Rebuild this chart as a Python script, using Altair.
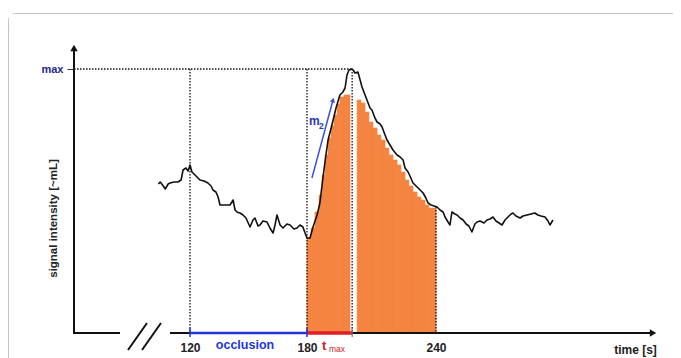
import altair as alt
import pandas as pd

# ---------------- data (time [s], signal intensity [a.u.]) ----------------
curve_t = [
    103.6, 104.6, 106.2, 107.2, 108.7, 109.7, 111.8, 113.8, 115.4, 116.4,
    117.9, 119.0, 120.0, 121.0, 123.1, 125.1, 127.2, 129.2, 130.8, 131.8,
    133.3, 134.4, 135.4, 137.9, 140.5, 142.1, 143.1, 144.1, 145.6, 147.2,
    148.7, 150.8, 152.3, 153.3, 154.9, 155.9, 157.4, 159.5, 161.0, 162.6,
    163.6, 164.6, 166.2, 167.7, 169.7, 171.3, 173.3, 174.9, 176.4, 177.9,
    179.0, 180.0, 181.4, 182.8, 184.7, 186.0, 187.4, 188.8, 189.8, 191.6,
    193.5, 195.3, 196.7, 197.7, 198.6, 199.5, 201.0, 201.8, 202.3, 203.7,
    204.7, 205.6, 207.0, 207.9, 209.3, 210.2, 211.6, 212.6, 214.0, 214.9,
    216.3, 217.2, 218.6, 220.0, 221.9, 223.3, 224.7, 225.6, 227.0, 227.9,
    229.3, 231.2, 232.6, 234.0, 235.3, 236.3, 237.7, 239.1, 240.5, 241.9,
    243.3, 244.2, 245.6, 246.5, 247.4, 248.8, 249.8, 251.2, 252.6, 254.0,
    255.3, 256.7, 258.1, 259.1, 260.5, 262.3, 263.7, 265.1, 266.5, 267.9,
    269.3, 270.7, 272.1, 273.5, 274.9, 275.8, 277.2, 279.1, 280.5, 282.3,
    284.2, 286.0, 287.4, 288.8, 290.7, 292.1, 293.0, 294.4,
]
curve_s = [
    149, 151, 147, 144, 149, 150, 151, 151, 153, 163,
    165, 162, 168, 161, 157, 153, 152, 150, 147, 143,
    141, 136, 128, 128, 128, 133, 123, 121, 120, 118,
    115, 106, 113, 115, 107, 108, 112, 111, 105, 100,
    108, 118, 108, 105, 109, 108, 104, 105, 108, 106,
    100, 95, 95, 106, 118, 130, 155, 178, 193, 208,
    225, 238, 241, 245, 258, 263, 264, 262, 260, 261,
    253, 246, 238, 233, 225, 223, 215, 211, 209, 206,
    198, 193, 188, 183, 178, 176, 173, 165, 161, 157,
    150, 146, 143, 140, 135, 130, 128, 127, 126, 123,
    121, 116, 111, 108, 121, 119, 118, 115, 113, 109,
    107, 101, 109, 111, 112, 110, 113, 114, 116, 112,
    110, 108, 113, 116, 119, 120, 117, 115, 117, 118,
    119, 120, 118, 117, 116, 112, 108, 113,
]

# orange integration steps
orange_t0 = [180.0, 181.9, 183.7, 185.6, 187.0, 188.4, 189.8, 191.2, 192.6, 194.0, 195.3, 197.2,
             203.3, 205.1, 207.0, 208.8, 210.7, 212.6, 214.4, 216.3, 218.1, 220.0, 221.9,
             223.7, 225.6, 227.4, 229.3, 231.2, 233.0, 234.9, 236.7]
orange_t1 = [181.9, 183.7, 185.6, 187.0, 188.4, 189.8, 191.2, 192.6, 194.0, 195.3, 197.2, 200.0,
             205.1, 207.0, 208.8, 210.7, 212.6, 214.4, 216.3, 218.1, 220.0, 221.9, 223.7,
             225.6, 227.4, 229.3, 231.2, 233.0, 234.9, 236.7, 240.0]
orange_s = [95, 105, 121, 138, 158, 178, 195, 207, 218, 229, 236, 238,
            233, 230, 221, 211, 205, 198, 193, 185, 178, 173, 168,
            161, 153, 147, 141, 136, 133, 128, 125]

tick_values = [120, 180, 240]
axis_origin_t = 60
t_occl_start, t_occl_end, t_max = 120, 180, 201
s_max = 264
dotted_t = [120, 180, 201, 240]
dotted_top = [264, 264, 264, 126]
m2_t = [182.3, 192.1]
m2_s = [155, 233]

# ---------------- styles ----------------
FONT = "Liberation Sans"
ORANGE = "#F4843F"
BLUE = "#2236d8"
RED = "#e31b23"
NAVY = "#23288a"
FRAME = "#c4c4c4"
DOT = [1.5, 1.5]

xs = alt.Scale(domain=[60, 120, 180, 240], range=[0, 116, 233, 362], nice=False, zero=False)
ys = alt.Scale(domain=[0, 264], range=[288, 24], nice=False, zero=False)

one = pd.DataFrame({"k": [0]})
curve_df = pd.DataFrame({"t": curve_t, "s": curve_s})
orange_df = pd.DataFrame({"t0": orange_t0, "t1": orange_t1, "s": orange_s})
dotted_df = pd.DataFrame({"t": dotted_t, "top": dotted_top})

XA = alt.Axis(values=tick_values, domain=False, ticks=False, grid=False,
              labelFont=FONT, labelFontWeight="bold", labelFontSize=12, labelColor="#222",
              labelPadding=9, labelOverlap=False, labelFlush=False,
              title="time [s]", titleFont=FONT, titleFontWeight="bold", titleFontSize=12,
              titleColor="#222", titleX=561, titleY=20, titleAlign="center",
              titleBaseline="alphabetic")
YA = alt.Axis(values=[s_max], labelExpr="'max'", domain=False, ticks=True, tickSize=7,
              tickColor="#333", tickWidth=1, grid=False,
              labelFont=FONT, labelFontWeight="bold", labelFontSize=11, labelColor=NAVY,
              labelPadding=4,
              title="signal intensity [~mL]", titleFont=FONT, titleFontWeight="bold",
              titleFontSize=11.5, titleColor="#222", titleX=-21, titleY=173,
              titleAngle=270, titleAlign="center", titleBaseline="middle")


def X(field, **kw):
    return alt.X(field, scale=xs, axis=XA, **kw)


def Y(field, **kw):
    return alt.Y(field, scale=ys, axis=YA, **kw)


def seg(x1, y1, x2, y2, color="#111", width=2):
    return alt.Chart(one).mark_rule(color=color, strokeWidth=width).encode(
        x=alt.value(x1), y=alt.value(y1), x2=alt.value(x2), y2=alt.value(y2))


def txt(text, x, y, size, color, align="left", weight="bold"):
    return alt.Chart(one).mark_text(text=text, font=FONT, fontSize=size, fontWeight=weight,
                                    color=color, align=align, baseline="alphabetic").encode(
        x=alt.value(x), y=alt.value(y))


# rounded top-left corner of the page frame, then its two straight edges
corner = alt.Chart(one).mark_rect(filled=False, stroke=FRAME, strokeWidth=1,
                                  cornerRadius=7).encode(
    x=alt.value(-65.5), y=alt.value(-31.5), x2=alt.value(-45.5), y2=alt.value(-11.5))
corner_mask = alt.Chart(one).mark_rect(color="white", opacity=1).encode(
    x=alt.value(-64.8), y=alt.value(-30.8), x2=alt.value(-44), y2=alt.value(-10))
frame_top = seg(-56, -31.5, 640, -31.5, color=FRAME, width=1)
frame_left = seg(-65.5, -22, -65.5, 330, color=FRAME, width=1)

orange = alt.Chart(orange_df).mark_rect(color=ORANGE, stroke=ORANGE, strokeWidth=0.6).encode(
    x=X("t0:Q"), x2="t1:Q", y=Y("s:Q"), y2=alt.datum(0))

dotted = alt.Chart(dotted_df).mark_rule(color="#111", strokeDash=DOT, strokeWidth=1.3).encode(
    x=X("t:Q"), y=Y("top:Q"), y2=alt.datum(0))

maxline = alt.Chart(one).mark_rule(color="#111", strokeDash=DOT, strokeWidth=1.3).encode(
    x=alt.XDatum(axis_origin_t, scale=xs, axis=XA), x2=alt.datum(t_max),
    y=alt.YDatum(s_max, scale=ys, axis=YA))

curve = alt.Chart(curve_df).mark_line(color="#111", strokeWidth=1.6, strokeJoin="round").encode(
    x=X("t:Q"), y=Y("s:Q"))

# axes drawing (broken axis)
y_line = seg(0, 288, 0, 6)
y_head = alt.Chart(one).mark_point(shape="triangle-up", filled=True, size=55, color="#111",
                                   opacity=1).encode(x=alt.value(0), y=alt.value(3))
l_bottom = seg(-1, 288, 46, 288)
slash1 = seg(54, 305, 73, 278)
slash2 = seg(68, 305, 87, 278)
x_line = seg(96, 288, 577, 288)
x_head = alt.Chart(one).mark_point(shape="triangle-right", filled=True, size=55, color="#111",
                                   opacity=1).encode(x=alt.value(579), y=alt.value(288))

occl = alt.Chart(one).mark_rule(color=BLUE, strokeWidth=2.5).encode(
    x=alt.XDatum(t_occl_start, scale=xs, axis=XA), x2=alt.datum(t_occl_end),
    y=alt.YDatum(0, scale=ys, axis=YA))
tmax_seg = alt.Chart(one).mark_rule(color=RED, strokeWidth=3.5).encode(
    x=alt.XDatum(t_occl_end, scale=xs, axis=XA), x2=alt.datum(t_max),
    y=alt.YDatum(0, scale=ys, axis=YA))
blue_ticks = alt.Chart(pd.DataFrame({"t": [t_occl_start, t_occl_end]})).mark_rule(
    strokeWidth=1.5, color=BLUE).encode(x=X("t:Q"), y=alt.value(283), y2=alt.value(292))
gray_tick = alt.Chart(one).mark_rule(strokeWidth=1.2, color="#777").encode(
    x=alt.XDatum(t_max, scale=xs, axis=XA), y=alt.value(283), y2=alt.value(292))

m2_df = pd.DataFrame({"t": [m2_t[0]], "t2": [m2_t[1]], "s": [m2_s[0]], "s2": [m2_s[1]]})
m2_line = alt.Chart(m2_df).mark_rule(color="#3f4fd6", strokeWidth=1.5).encode(
    x=X("t:Q"), x2="t2:Q", y=Y("s:Q"), y2="s2:Q")
m2_head = alt.Chart(m2_df).mark_point(shape="triangle-up", filled=True, size=28,
                                      color="#3f4fd6", opacity=1, angle=15).encode(
    x=X("t2:Q"), y=Y("s2:Q"))

texts = [
    txt("occlusion", 171, 304, 12.5, BLUE, align="center"),
    txt("t", 248, 305, 13, "#cc2229"),
    txt("max", 255, 307, 8.5, "#cc2229", weight="normal"),
    txt("m", 235, 80, 12, "#2a35b8"),
    txt("2", 245, 84, 8.5, "#2a35b8"),
]

chart = alt.layer(
    corner, corner_mask, frame_top, frame_left, orange, dotted, maxline, curve,
    y_line, y_head, l_bottom, slash1, slash2, x_line, x_head,
    occl, tmax_seg, blue_ticks, gray_tick, m2_line, m2_head, *texts
).properties(
    width=591, height=288,
    autosize=alt.AutoSizeParams(type="none"),
    padding={"left": 66, "top": 37, "right": 8, "bottom": 25},
    background="white",
).configure_view(strokeWidth=0)

chart.save("out.html", embed_options={"renderer": "svg", "actions": False})
